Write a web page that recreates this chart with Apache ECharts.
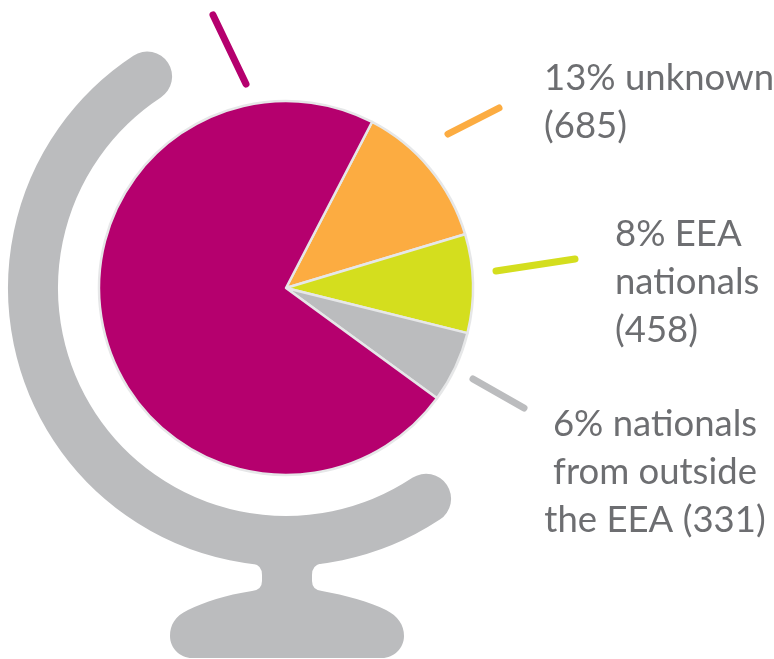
<!DOCTYPE html>
<html>
<head>
<meta charset="utf-8">
<style>html,body{margin:0;padding:0;background:#fff}#c{width:774px;height:659px}</style>
<script src="https://cdn.jsdelivr.net/npm/echarts@6/dist/echarts.min.js"></script>
</head>
<body>
<div id="c"></div>
<script>
const categories = ['unknown', 'EEA nationals', 'nationals from outside the EEA', 'other'];
const values = [685, 458, 331, 3900];
const colors = ['#FCAC41', '#D4DE1E', '#BBBCBE', '#B5006E'];
const labels = ['13% unknown\n(685)', '8% EEA\nnationals\n(458)', '6% nationals\nfrom outside\nthe EEA (331)', ''];
const labelAnchors = [[544, 54, 'left'], [615, 210, 'left'], [655, 400, 'center'], null];
const ticks = [[448, 134, 499, 108], [496, 271, 575, 259], [473, 379, 524, 408], [213, 15, 246, 84]];
const tickColors = ['#FCAC41', '#D4DE1E', '#BBBCBE', '#B5006E'];

const standPath = 'M236,555 L252,563 Q262,565 262,575 L262,581 Q262,590 252,591 C225,595 205,602 188,610 C175,616 170,625 170,636 C170,648 180,658 192,658 L382,658 C394,658 404,648 404,636 C404,625 398,616 386,610 C370,602 345,595 322,591 Q312,590 312,581 L312,575 Q312,565 322,563 L338,555 Z';
echarts.graphic.registerShape('globeStand', echarts.graphic.extendPath(standPath, {}));

const chart = echarts.init(document.getElementById('c'), null, {renderer: 'canvas'});
const GREY = '#BBBCBE';
chart.setOption({
  animation: false,
  backgroundColor: '#fff',
  graphic: {
    elements: [
      {type: 'arc', z: 1, shape: {cx: 286, cy: 288, r: 253, startAngle: -2.152, endAngle: 0.984 , clockwise: false},
        style: {stroke: GREY, fill: 'none', lineWidth: 50, lineCap: 'round'}},
      {type: 'globeStand', z: 1, style: {fill: GREY}},
      ...ticks.map((t, i) => ({type: 'line', z: 2, shape: {x1: t[0], y1: t[1], x2: t[2], y2: t[3]},
        style: {stroke: tickColors[i], lineWidth: 7, lineCap: 'round'}}))
    ]
  },
  series: [{
    type: 'pie',
    z: 3,
    center: [286, 288],
    radius: [0, 187],
    startAngle: 62.6,
    clockwise: true,
    avoidLabelOverlap: false,
    itemStyle: {borderColor: '#E6E7E8', borderWidth: 2.5},
    emphasis: {disabled: true},
    labelLine: {show: false},
    labelLayout: function (p) {
      const a = labelAnchors[p.dataIndex];
      return a ? {x: a[0], y: a[1], align: a[2], verticalAlign: 'top', hideOverlap: false, moveOverlap: false} : {};
    },
    label: {
      show: true,
      position: 'outside',
      color: '#6D6E71',
      fontFamily: 'Lato',
      fontSize: 36.5,
      lineHeight: 48,
      formatter: p => labels[p.dataIndex]
    },
    data: categories.map((name, i) => ({
      name, value: values[i],
      itemStyle: {color: colors[i]},
      label: {show: labels[i] !== '', align: labelAnchors[i] ? labelAnchors[i][2] : 'left'}
    }))
  }]
});
</script>
</body>
</html>
